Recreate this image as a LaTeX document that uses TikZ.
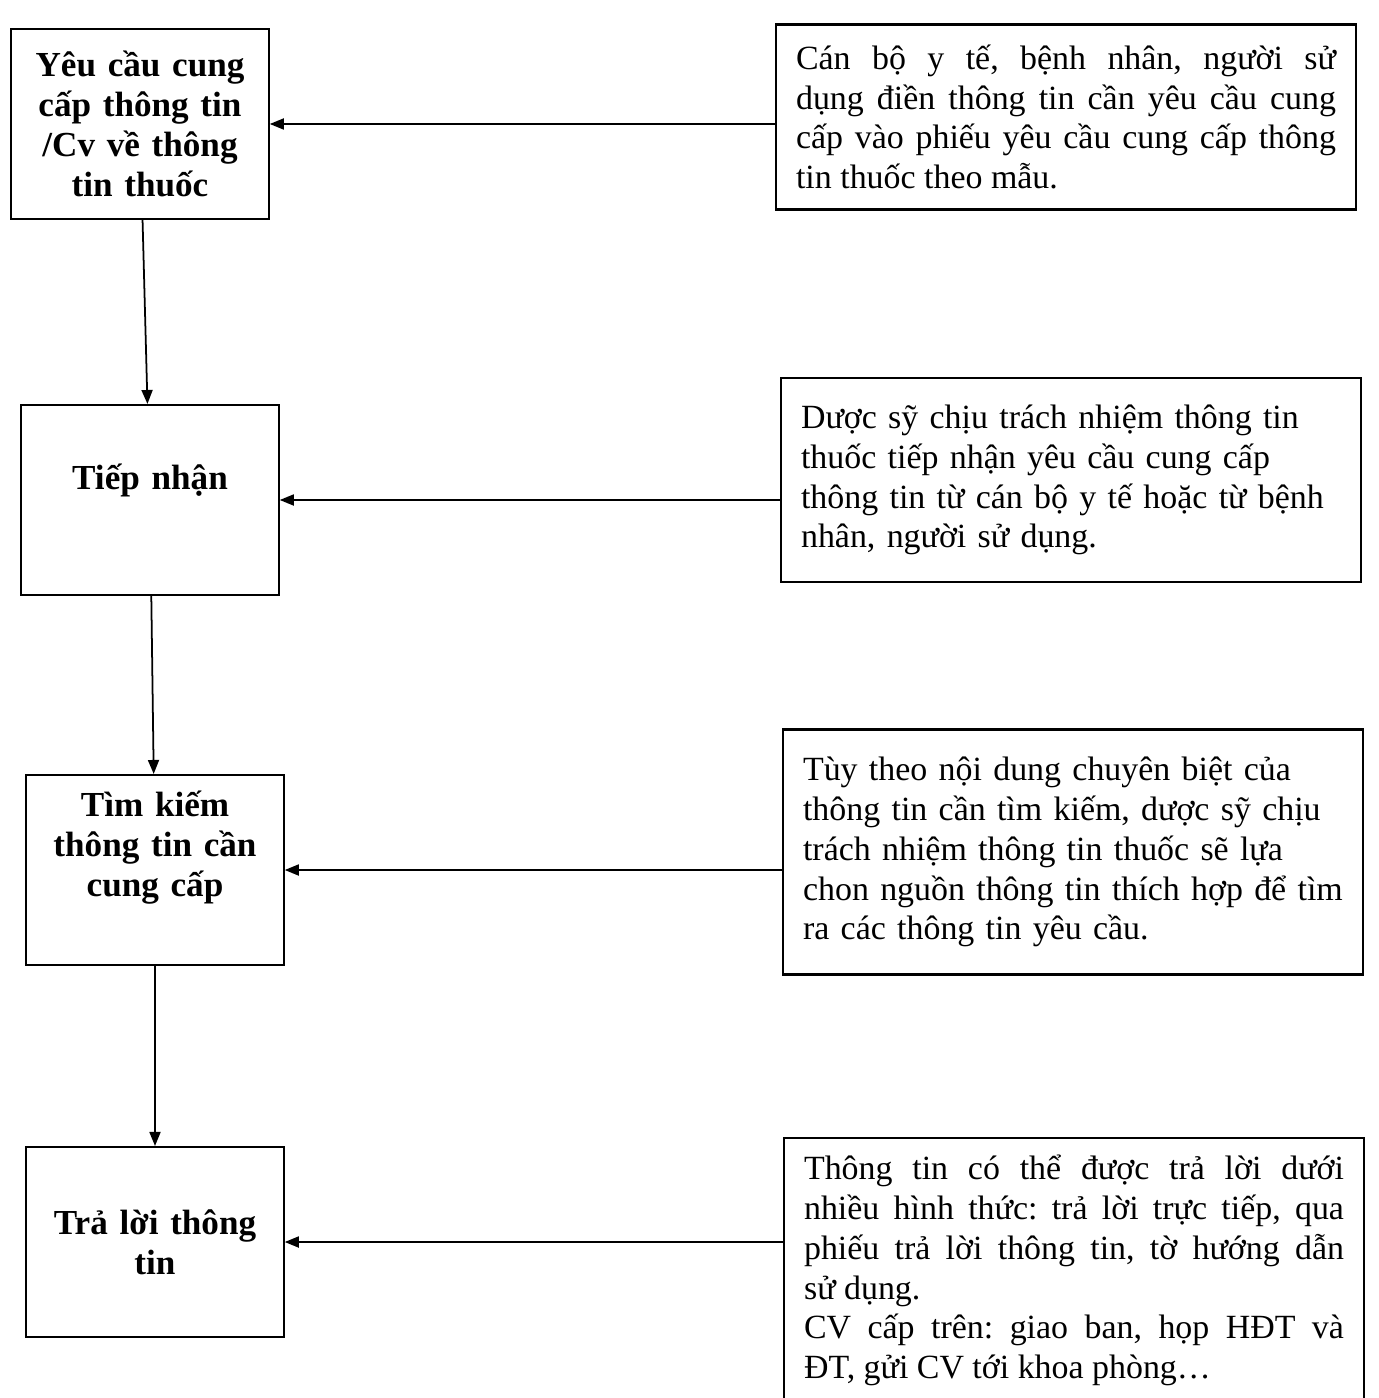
\documentclass[tikz,border=0pt]{standalone}
\usepackage{fontspec}
\setmainfont{Liberation Serif}
\usetikzlibrary{arrows.meta}
\frenchspacing
\begin{document}
\begin{tikzpicture}[x=0.02cm,y=-0.02cm]
    \tikzstyle{every node}+=[font=\fontsize{19.3}{22.7}\selectfont]
    \tikzstyle{stepbox}=[draw,line width=1.2pt,minimum width=5.15cm,minimum height=3.8cm,align=center,text width=4.5cm,font=\fontsize{20}{22.7}\selectfont\bfseries]
    \tikzstyle{notebox}=[draw,line width=1.2pt,text width=10.8cm,inner xsep=0.4cm]
    \tikzstyle{flow}=[line width=1pt,-{Triangle[length=0.28cm,width=0.22cm]}]
    \useasboundingbox (0,0) rectangle (1378,1398);
    \node [stepbox] (ask) at (140,124) {Yêu cầu cung\\cấp thông tin\\/Cv về thông\\tin thuốc};
    \node [stepbox,text depth=0.95cm] (take) at (150,500) {Tiếp nhận};
    \node [stepbox,text depth=2.65cm] (seek) at (155,870) {Tìm kiếm\\thông tin cần\\cung cấp};
    \node [stepbox] (reply) at (155,1242) {Trả lời thông\\tin};
    \node [notebox,align=justify,minimum height=3.7cm] (askn) at (1066,117) {Cán bộ y tế, bệnh nhân, người sử\linebreak dụng điền thông tin cần yêu cầu cung\linebreak cấp vào phiếu yêu cầu cung cấp thông\linebreak tin thuốc theo mẫu.};
    \node [notebox,align=left,minimum height=4.08cm] (taken) at (1071,480) {Dược sỹ chịu trách nhiệm thông tin\\thuốc tiếp nhận yêu cầu cung cấp\\thông tin từ cán bộ y tế hoặc từ bệnh\\nhân, người sử dụng.};
    \node [notebox,align=left,minimum height=4.9cm] (seekn) at (1073,852) {Tùy theo nội dung chuyên biệt của\\thông tin cần tìm kiếm, dược sỹ chịu\\trách nhiệm thông tin thuốc sẽ lựa\\chon nguồn thông tin thích hợp để tìm\\ra các thông tin yêu cầu.};
    \node [notebox,align=justify,minimum height=5.3cm,anchor=north] (replyn) at (1074,1137) {Thông tin có thể được trả lời dưới\linebreak nhiều hình thức: trả lời trực tiếp, qua\linebreak phiếu trả lời thông tin, tờ hướng dẫn\linebreak sử dụng.\\CV cấp trên: giao ban, họp HĐT và\linebreak ĐT, gửi CV tới khoa phòng\dots};
    \draw [flow] (ask) -- (take);
    \draw [flow] (take) -- (seek);
    \draw [flow] (seek) -- (reply);
    \draw [flow] (askn.west |- ask.east) -- (ask.east);
    \draw [flow] (taken.west |- take.east) -- (take.east);
    \draw [flow] (seekn.west |- seek.east) -- (seek.east);
    \draw [flow] (replyn.west |- reply.east) -- (reply.east);
\end{tikzpicture}
\end{document}
